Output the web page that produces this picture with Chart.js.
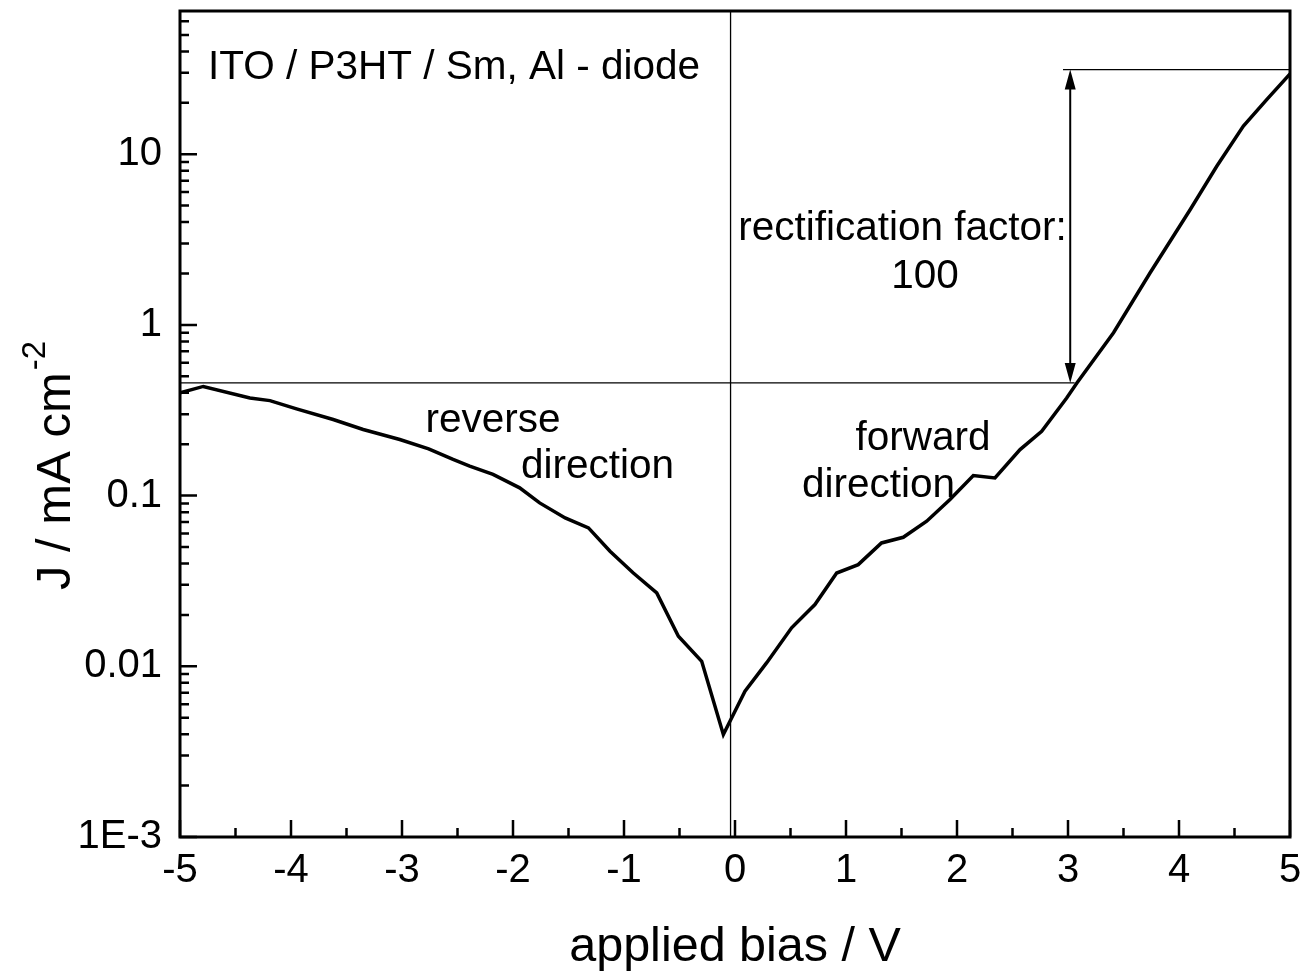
<!DOCTYPE html>
<html>
<head>
<meta charset="utf-8">
<script src="https://cdn.jsdelivr.net/npm/chart.js@4.4.1/dist/chart.umd.min.js"></script>
<style>
  html, body { margin: 0; padding: 0; background: #fff; }
</style>
</head>
<body>
<canvas id="chart" width="1300" height="974"></canvas>
<script>
// J-V curve of the diode
const biasV = [-5, -4.79, -4.37, -4.19, -3.95, -3.62, -3.35, -3.02, -2.76, -2.54, -2.39, -2.18, -1.94, -1.76,
    -1.53, -1.32, -1.126, -0.916, -0.705, -0.51, -0.30, -0.105, 0.09, 0.286, 0.51, 0.72, 0.916, 1.11, 1.32,
    1.516, 1.727, 1.937, 2.147, 2.342, 2.568, 2.763, 2.988, 3.08, 3.41, 3.74, 4.10, 4.34, 4.58, 4.79, 5];
const currentJ = [0.40, 0.436, 0.373, 0.36, 0.322, 0.279, 0.244, 0.213, 0.188, 0.163, 0.149, 0.133, 0.111, 0.0906,
    0.074, 0.0647, 0.0472, 0.0352, 0.0269, 0.015, 0.0107, 0.00398, 0.00715, 0.0105, 0.0168, 0.023, 0.0352, 0.0394, 0.0528,
    0.057, 0.0708, 0.0948, 0.131, 0.127, 0.186, 0.238, 0.373, 0.457, 0.90, 2.02, 4.73, 8.5, 14.6, 20.9, 29.5];

const xTicks = [-5, -4, -3, -2, -1, 0, 1, 2, 3, 4, 5];
const yTicks = [0.001, 0.01, 0.1, 1, 10];
const yTickLabels = ['1E-3', '0.01', '0.1', '1', '10'];

// guide lines for the rectification factor
const zeroBias = -0.04;
const lowLevel = 0.457;   // reverse current at -5 V
const highLevel = 31.3;   // forward current at +5 V
const lowLineEnd = 3.06;
const highLineStart = 2.955;
const arrowX = 3.02;

const notes = [
    { text: 'ITO / P3HT / Sm, Al - diode', x: -4.748, y: 27.4, align: 'left' },
    { text: 'reverse', x: -2.18, y: 0.237, align: 'center' },
    { text: 'direction', x: -1.239, y: 0.127, align: 'center' },
    { text: 'forward', x: 1.694, y: 0.186, align: 'center' },
    { text: 'direction', x: 1.293, y: 0.0986, align: 'center' },
    { text: 'rectification factor:', x: 1.509, y: 3.16, align: 'center' },
    { text: '100', x: 1.712, y: 1.654, align: 'center' },
];

const FONT = '"Liberation Sans", Arial, sans-serif';

const curve = biasV.map((v, i) => ({ x: v, y: currentJ[i] }));

// no extra room for half labels at the ends of the axes
function noPadding(scale) {
    scale.paddingTop = 0;
    scale.paddingBottom = 0;
    scale.paddingLeft = 0;
    scale.paddingRight = 0;
}

const decorations = {
    id: 'decorations',
    afterDatasetsDraw(chart) {
        const { ctx, chartArea: a, scales: { x, y } } = chart;
        ctx.save();
        ctx.strokeStyle = '#000';
        ctx.fillStyle = '#000';

        // frame
        ctx.lineWidth = 3;
        ctx.strokeRect(a.left, a.top, a.right - a.left, a.bottom - a.top);

        // inward ticks on bottom and left
        ctx.lineWidth = 2.5;
        ctx.beginPath();
        for (let v = -5; v <= 5; v += 0.5) {
            const px = x.getPixelForValue(v);
            const len = Number.isInteger(v) ? 17 : 9;
            ctx.moveTo(px, a.bottom);
            ctx.lineTo(px, a.bottom - len);
        }
        for (let e = -3; e <= 1; e++) {
            for (let k = 1; k <= 9; k++) {
                const v = k * Math.pow(10, e);
                if (v > y.max) break;
                const py = y.getPixelForValue(v);
                ctx.moveTo(a.left, py);
                ctx.lineTo(a.left + (k === 1 ? 17 : 9), py);
            }
        }
        ctx.stroke();

        // double arrow
        const ax = x.getPixelForValue(arrowX);
        const yTop = y.getPixelForValue(highLevel);
        const yBot = y.getPixelForValue(lowLevel);
        ctx.lineWidth = 2;
        ctx.beginPath();
        ctx.moveTo(ax, yTop + 10);
        ctx.lineTo(ax, yBot - 10);
        ctx.stroke();
        ctx.beginPath();
        ctx.moveTo(ax, yTop);
        ctx.lineTo(ax - 5.5, yTop + 20);
        ctx.lineTo(ax + 5.5, yTop + 20);
        ctx.closePath();
        ctx.moveTo(ax, yBot);
        ctx.lineTo(ax - 5.5, yBot - 20);
        ctx.lineTo(ax + 5.5, yBot - 20);
        ctx.closePath();
        ctx.fill();

        // annotations
        ctx.font = '40.5px ' + FONT;
        ctx.textBaseline = 'alphabetic';
        notes.forEach((n) => {
            ctx.textAlign = n.align;
            ctx.fillText(n.text, x.getPixelForValue(n.x), y.getPixelForValue(n.y));
        });

        // y axis title with superscript
        ctx.translate(70, 590);
        ctx.rotate(-Math.PI / 2);
        ctx.textAlign = 'left';
        ctx.font = '49px ' + FONT;
        const main = 'J / mA cm';
        ctx.fillText(main, 0, 0);
        const w = ctx.measureText(main).width;
        ctx.font = '33px ' + FONT;
        ctx.fillText('-2', w + 2, -25);
        ctx.restore();
    },
};

new Chart(document.getElementById('chart'), {
    type: 'line',
    data: {
        datasets: [
            {
                data: curve,
                borderColor: '#000',
                borderWidth: 3.5,
                pointRadius: 0,
                tension: 0,
                order: 0,
            },
            {
                data: [{ x: -5, y: lowLevel }, { x: lowLineEnd, y: lowLevel }],
                borderColor: '#000',
                borderWidth: 1.3,
                pointRadius: 0,
                order: 1,
            },
            {
                data: [{ x: highLineStart, y: highLevel }, { x: 5, y: highLevel }],
                borderColor: '#000',
                borderWidth: 1.3,
                pointRadius: 0,
                order: 1,
            },
            {
                data: [{ x: zeroBias, y: 0.001 }, { x: zeroBias, y: 69 }],
                borderColor: '#000',
                borderWidth: 1.3,
                pointRadius: 0,
                order: 1,
            },
        ],
    },
    options: {
        responsive: false,
        animation: false,
        layout: { padding: { left: 0, right: 10, top: 11, bottom: 0 } },
        plugins: { legend: { display: false }, tooltip: { enabled: false } },
        scales: {
            x: {
                type: 'linear',
                min: -5,
                max: 5,
                afterBuildTicks: (scale) => { scale.ticks = xTicks.map((v) => ({ value: v })); },
                afterFit: (scale) => { scale.height = 137; noPadding(scale); },
                grid: { display: false, drawTicks: false },
                border: { display: false },
                ticks: { color: '#000', font: { family: FONT, size: 40 }, padding: 10, maxRotation: 0,
                    callback: (v) => String(v) },
                title: { display: true, text: 'applied bias / V', color: '#000',
                    font: { family: FONT, size: 48.5 }, padding: { top: 0, bottom: -3 } },
            },
            y: {
                type: 'logarithmic',
                min: 0.001,
                max: 69,
                afterBuildTicks: (scale) => { scale.ticks = yTicks.map((v) => ({ value: v })); },
                afterFit: (scale) => { scale.width = 180; noPadding(scale); },
                grid: { display: false, drawTicks: false },
                border: { display: false },
                ticks: { color: '#000', font: { family: FONT, size: 40 }, padding: 18,
                    callback: (v) => yTickLabels[yTicks.indexOf(v)] },
            },
        },
    },
    plugins: [decorations],
});
</script>
</body>
</html>
